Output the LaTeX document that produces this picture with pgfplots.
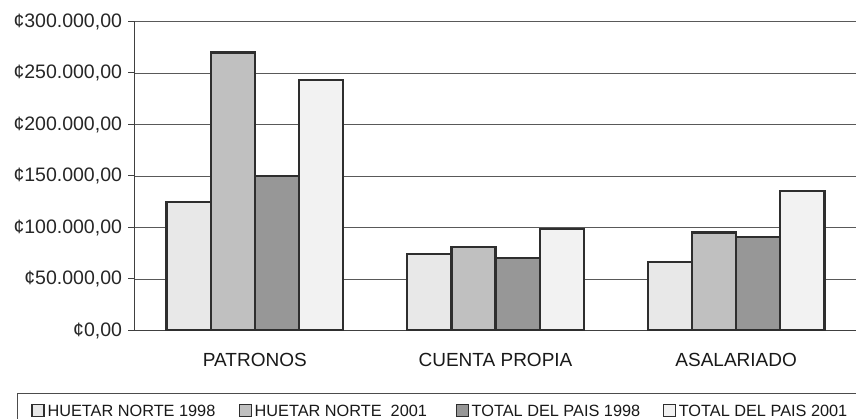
\documentclass[border=0pt]{standalone}
\usepackage{fontspec}
\setmainfont{Liberation Sans}
\usepackage{pgfplots}
\pgfplotsset{compat=1.18}
\definecolor{sA}{HTML}{E8E8E8}
\definecolor{sB}{HTML}{C0C0C0}
\definecolor{sC}{HTML}{979797}
\definecolor{sD}{HTML}{F2F2F2}
\definecolor{edge}{HTML}{2E2E2E}
\begin{document}
\begin{tikzpicture}[x=1pt,y=1pt]
\path[use as bounding box] (0,0) rectangle (856,419);
\clip (0,0) rectangle (856,419);
\begin{axis}[
  at={(134.5pt,88.5pt)}, anchor=south west,
  scale only axis, width=722pt, height=309pt,
  ymin=0, ymax=300000, xmin=-0.5, xmax=2.5,
  scaled y ticks=false,
  ybar=0pt, bar width=44.15pt,
  axis x line*=bottom, axis y line*=left,
  axis line style={draw=black!75, line width=1.2pt, -},
  ymajorgrids, grid style={draw=black!65, line width=0.9pt},
  tick align=outside, major tick length=6pt,
  y tick style={draw=black!75, line width=1pt},
  ytick={0,50000,100000,150000,200000,250000,300000},
  yticklabels={{¢0,00},{¢50.000,00},{¢100.000,00},{¢150.000,00},{¢200.000,00},{¢250.000,00},{¢300.000,00}},
  yticklabel style={font=\fontsize{19.5}{23}\selectfont, text=black!85, xshift=-3pt},
  xtick={0,1,2}, xticklabels={PATRONOS,CUENTA PROPIA,ASALARIADO},
  xticklabel style={font=\fontsize{19}{23}\selectfont, text=black!90, yshift=-13pt},
  x tick style={draw=none},
  extra x ticks={0.5,1.5}, extra x tick labels={},
  extra x tick style={grid=none, tick style={draw=black!75, line width=1pt}},
  legend columns=4,
  legend style={draw=black!70, line width=0.8pt, anchor=north west,
    at={(-0.16274,-0.20227)}, inner xsep=14pt, inner ysep=10.5pt,
    font=\fontsize{16.3}{20}\selectfont, text=black!90,
    cells={anchor=west}, nodes={inner sep=0pt, text depth=0pt},
    /tikz/every odd column/.append style={column sep=2.5pt}},
  legend image code/.code={\draw[#1, line width=1.6pt] (0pt,-6pt) rectangle (12pt,6pt);},
]
\addplot[fill=sA, draw=edge, line width=2.3pt] coordinates {(0,125000) (1,74000) (2,66200)};
\addplot[fill=sB, draw=edge, line width=2.3pt] coordinates {(0,270000) (1,81400) (2,95000)};
\addplot[fill=sC, draw=edge, line width=2.3pt] coordinates {(0,150200) (1,70700) (2,91000)};
\addplot[fill=sD, draw=edge, line width=2.3pt] coordinates {(0,243400) (1,98500) (2,135400)};
\addlegendentry{\makebox[191pt][l]{HUETAR NORTE 1998}}
\addlegendentry{\makebox[201pt][l]{HUETAR NORTE\ \ 2001}}
\addlegendentry{\makebox[191pt][l]{TOTAL DEL PAIS 1998}}
\addlegendentry{\makebox[200pt][l]{TOTAL DEL PAIS 2001}}
\end{axis}
\end{tikzpicture}
\end{document}
